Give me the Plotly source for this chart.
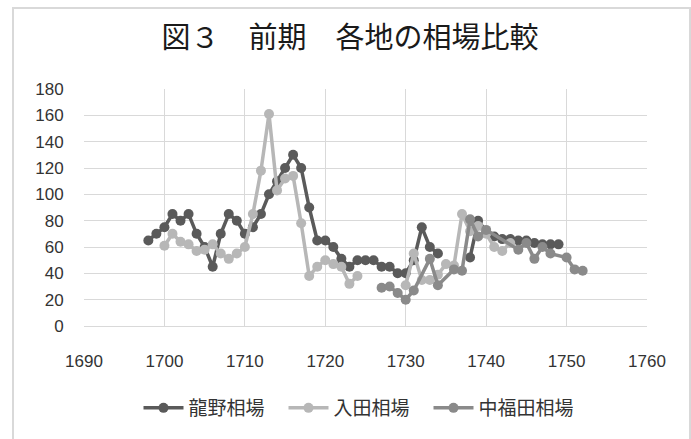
import plotly.graph_objects as go

# 龍野相場
tatsuno_years = [1698, 1699, 1700, 1701, 1702, 1703, 1704, 1705, 1706, 1707, 1708, 1709,
                 1710, 1711, 1712, 1713, 1714, 1715, 1716, 1717, 1718, 1719, 1720, 1721,
                 1722, 1723, 1724, 1725, 1726, 1727, 1728, 1729, 1730, 1731, 1732, 1733,
                 1734, 1735, 1738, 1739, 1740, 1741, 1742, 1743, 1744, 1745, 1746, 1747,
                 1748, 1749]
tatsuno_vals = [65, 70, 75, 85, 80, 85, 70, 60, 45, 70, 85, 80,
                70, 75, 85, 100, 110, 120, 130, 120, 90, 65, 65, 60,
                51, 45, 50, 50, 50, 45, 45, 40, 40, 50, 75, 60,
                55, None, 52, 80, 72, 68, 66, 66, 65, 65, 63, 62,
                62, 62]

# 入田相場
nyuta_years = [1700, 1701, 1702, 1703, 1704, 1705, 1706, 1707, 1708, 1709, 1710, 1711,
               1712, 1713, 1714, 1715, 1716, 1717, 1718, 1719, 1720, 1721, 1722, 1723,
               1724, 1725, 1730, 1731, 1732, 1733, 1734, 1735, 1736, 1737, 1738, 1739,
               1740, 1741, 1742, 1743]
nyuta_vals = [61, 70, 64, 62, 57, 58, 62, 55, 51, 55, 60, 85,
              118, 161, 103, 112, 114, 78, 38, 45, 50, 47, 45, 32,
              38, None, 31, 55, 35, 35, 39, 47, 46, 85, 72, 76,
              70, 60, 57, 63]

# 中福田相場
nakafukuda_years = [1727, 1728, 1729, 1730, 1731, 1733, 1734, 1736, 1737, 1738, 1739,
                    1740, 1744, 1745, 1746, 1747, 1748, 1750, 1751, 1752]
nakafukuda_vals = [29, 30, 25, 20, 27, 51, 31, 43, 42, 81, 68,
                   73, 58, 63, 51, 60, 55, 52, 43, 42]

title_text = "図３　前期　各地の相場比較"
series = [
    ("龍野相場", tatsuno_years, tatsuno_vals, "#5a5a5a"),
    ("入田相場", nyuta_years, nyuta_vals, "#b7b7b7"),
    ("中福田相場", nakafukuda_years, nakafukuda_vals, "#8a8a8a"),
]

fig = go.Figure()
for name, xs, ys, col in series:
    fig.add_trace(go.Scatter(
        x=xs, y=ys, name=name, mode="lines+markers",
        line=dict(color=col, width=3.5),
        marker=dict(color=col, size=10),
        connectgaps=False,
    ))

W, H = 691, 439
L, R, T, B = 84, 44, 89, 113
pw, ph = W - L - R, H - T - B

def px_x(p):
    return (p - L) / pw

def px_y(p):
    return (H - B - p) / ph

fig.update_layout(
    width=W, height=H,
    margin=dict(l=L, r=R, t=T, b=B),
    paper_bgcolor="white", plot_bgcolor="white",
    font=dict(family="Liberation Sans, Arial, sans-serif", size=17, color="#333333"),
    title=dict(text=title_text, x=350 / W, xanchor="center", xref="container",
               y=1 - 38 / H, yanchor="middle", yref="container",
               font=dict(family="Noto Sans CJK JP", size=29, color="#1a1a1a")),
    showlegend=True,
    legend=dict(orientation="h", x=px_x(356), xanchor="center", y=px_y(408), yanchor="middle",
                font=dict(family="Noto Sans CJK JP", size=19, color="#333333"),
                itemwidth=40, entrywidth=90, bgcolor="rgba(0,0,0,0)"),
    xaxis=dict(range=[1690, 1760], dtick=10, tick0=1690, showgrid=True,
               gridcolor="#d9d9d9", gridwidth=1, zeroline=False,
               showline=True, linecolor="#d9d9d9", linewidth=1, mirror=False,
               ticks="outside", ticklen=20, tickcolor="rgba(0,0,0,0)",
               tickfont=dict(size=17, color="#333333")),
    yaxis=dict(range=[0, 180], dtick=20, showgrid=True, gridcolor="#d9d9d9", gridwidth=1,
               zeroline=False, showline=False,
               ticks="outside", ticklen=16, tickcolor="rgba(0,0,0,0)",
               tickfont=dict(size=17, color="#333333")),
    shapes=[dict(type="rect", xref="paper", yref="paper",
                 x0=px_x(13), x1=px_x(690), y0=px_y(445), y1=px_y(8),
                 line=dict(color="#d9d9d9", width=2), fillcolor="rgba(0,0,0,0)", layer="below")],
)

fig.write_html("out.html")
